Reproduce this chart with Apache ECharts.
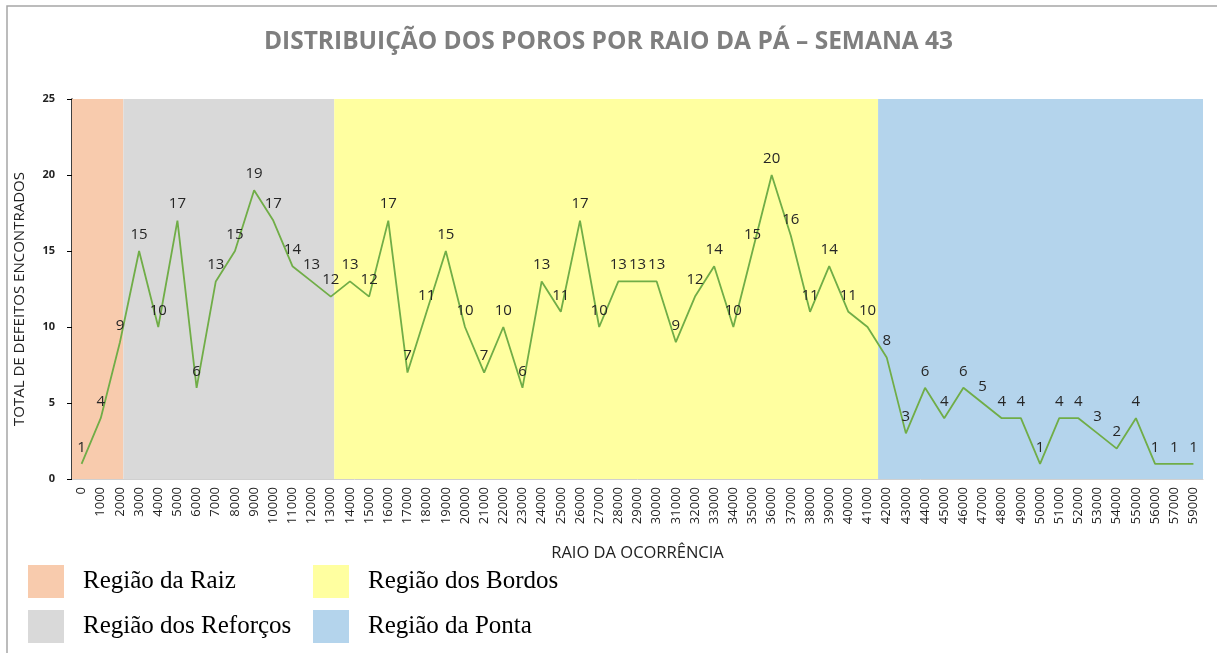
<!DOCTYPE html>
<html>
<head>
  <meta charset="utf-8">
  <title>Distribuição dos poros</title>
  <script src="https://cdn.jsdelivr.net/npm/echarts@6/dist/echarts.min.js"></script>
  <style>
    html, body { margin: 0; padding: 0; background: #fff; }
    #chart { width: 1217px; height: 653px; }
  </style>
</head>
<body>
<div id="chart"></div>
<script>
  // raio (categorias) - 58000 não aparece no original
  var raios = [];
  for (var r = 0; r <= 57000; r += 1000) raios.push(String(r));
  raios.push('59000');

  var defeitos = [1, 4, 9, 15, 10, 17, 6, 13, 15, 19,
    17, 14, 13, 12, 13, 12, 17, 7, 11, 15,
    10, 7, 10, 6, 13, 11, 17, 10, 13, 13,
    13, 9, 12, 14, 10, 15, 20, 16, 11, 14,
    11, 10, 8, 3, 6, 4, 6, 5, 4, 4,
    1, 4, 4, 3, 2, 4, 1, 1, 1];

  // regiões da pá, em unidades de categoria (0..59)
  var regioes = ['Região da Raiz', 'Região dos Reforços', 'Região dos Bordos', 'Região da Ponta'];
  var regiaoInicio = [0, 2.68, 13.68, 42.05];
  var regiaoFim = [2.68, 13.68, 42.05, 59];
  var regiaoCor = ['#F8CBAD', '#D9D9D9', '#FFFFA0', '#B4D4EC'];

  var chart = echarts.init(document.getElementById('chart'));

  var series = [];
  for (var i = 0; i < regioes.length; i++) {
    series.push({
      name: regioes[i],
      type: 'bar',
      xAxisIndex: 1,
      data: [],
      itemStyle: { color: regiaoCor[i] },
      z: 1,
      markArea: {
        silent: true,
        itemStyle: { color: regiaoCor[i] },
        data: [[{ xAxis: regiaoInicio[i] }, { xAxis: regiaoFim[i] }]]
      }
    });
  }
  series.push({
    name: 'Defeitos',
    type: 'line',
    data: defeitos,
    symbol: 'circle',
    symbolSize: 2,
    showSymbol: true,
    itemStyle: { color: 'rgba(0,0,0,0)' },
    z: 5,
    lineStyle: { color: '#70AD47', width: 1.8 },
    label: {
      show: true,
      position: 'top',
      distance: 8,
      fontFamily: 'Open Sans',
      fontSize: 15,
      color: '#262626'
    }
  });

  var legendText = { fontFamily: 'Liberation Serif', fontSize: 25, color: '#000', padding: [0, 0, 0, 14] };

  chart.setOption({
    animation: false,
    title: {
      text: 'DISTRIBUIÇÃO DOS POROS POR RAIO DA PÁ – SEMANA 43',
      left: 'center',
      top: 25,
      textStyle: { fontFamily: 'Open Sans', fontWeight: 'bold', fontSize: 24.5, color: '#7F7F7F' }
    },
    legend: [{
      orient: 'vertical',
      left: 28,
      top: 565,
      padding: 0,
      itemWidth: 36,
      itemHeight: 33,
      itemGap: 12,
      icon: 'rect',
      data: ['Região da Raiz', 'Região dos Reforços'],
      textStyle: legendText
    }, {
      orient: 'vertical',
      left: 313,
      top: 565,
      padding: 0,
      itemWidth: 36,
      itemHeight: 33,
      itemGap: 12,
      icon: 'rect',
      data: ['Região dos Bordos', 'Região da Ponta'],
      textStyle: legendText
    }],
    graphic: [{
      type: 'rect',
      shape: { x: 7, y: 6, width: 1230, height: 670 },
      style: { fill: 'none', stroke: '#A6A6A6', lineWidth: 1.5 },
      silent: true
    }],
    grid: { left: 72, right: 14, top: 99, bottom: 174 },
    xAxis: [{
      type: 'category',
      data: raios,
      boundaryGap: true,
      name: 'RAIO DA OCORRÊNCIA',
      nameLocation: 'middle',
      nameGap: 66,
      nameTextStyle: { fontFamily: 'Open Sans', fontSize: 16.5, color: '#222' },
      axisLine: { lineStyle: { color: '#D0D0D0', width: 1 } },
      axisTick: { show: false },
      axisLabel: { rotate: 90, interval: 0, margin: 8, fontFamily: 'Open Sans', fontSize: 13, color: '#222' }
    }, {
      type: 'value',
      min: 0,
      max: 59,
      show: false
    }],
    yAxis: {
      type: 'value',
      min: 0,
      max: 25,
      interval: 5,
      name: 'TOTAL DE DEFEITOS ENCONTRADOS',
      nameLocation: 'middle',
      nameGap: 45,
      nameTextStyle: { fontFamily: 'Open Sans', fontSize: 15, color: '#222', padding: [0, 20, 0, 0] },
      splitLine: { show: false },
      axisLine: { show: true, lineStyle: { color: '#000', width: 1.5 } },
      axisTick: { show: true, length: 5, lineStyle: { color: '#000' } },
      axisLabel: { margin: 17, fontFamily: 'Open Sans', fontWeight: 'bold', fontSize: 11, color: '#222' }
    },
    series: series
  });

  window.onresize = function () {
    chart.resize();
  };
</script>
</body>
</html>
